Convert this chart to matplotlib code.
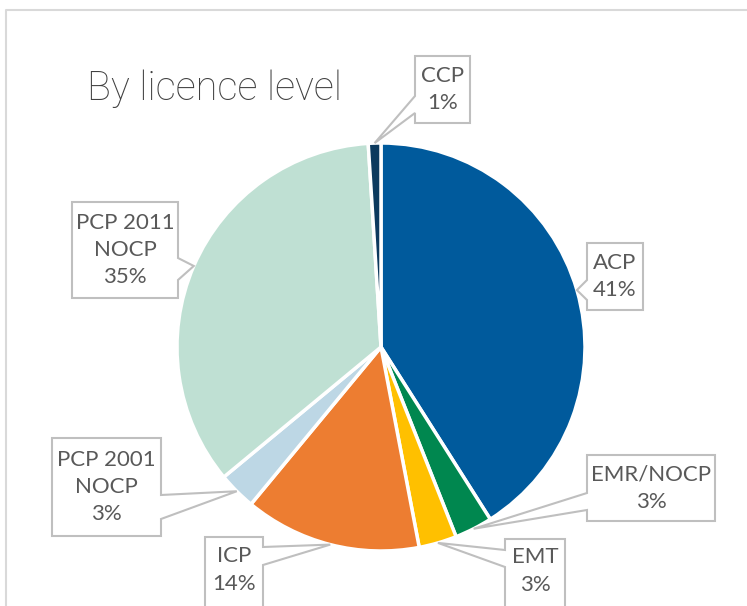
import numpy as np
import matplotlib
matplotlib.use("Agg")
import matplotlib.pyplot as plt
from matplotlib.patches import Polygon

W, H = 747, 606

# data
labels = ["ACP", "EMR/NOCP", "EMT", "ICP", "PCP 2001\nNOCP", "PCP 2011\nNOCP", "CCP"]
shares = [41, 3, 3, 14, 3, 35, 1]
colors = ["#005A9C", "#00874F", "#FFC000", "#ED7D31", "#BDD7E5", "#BFE0D3", "#0C3A5E"]

# callout boxes in pixel coords (x0, y0, x1, y1), side of pointer, pointer base on that side
boxes = [
    ((587, 243, 643, 310), "left", (280, 300)),
    ((587, 455, 715, 521), "left", (493, 510)),
    ((505, 539, 565, 608), "left", (550, 567)),
    ((205, 537, 263, 608), "right", (547, 565)),
    ((52, 438, 161, 536), "right", (495, 519)),
    ((72, 202, 178, 298), "right", (258, 280)),
    ((415, 56, 470, 123), "left", (96, 113)),
]

cx, cy, R = 381, 347, 204
text_col = "#595959"
line_col = "#BFBFBF"

plt.rcParams['font.family'] = ['Lato', 'DejaVu Sans']

fig = plt.figure(figsize=(W / 100, H / 100), dpi=100)
ax = fig.add_axes([0, 0, 1, 1])


def Y(y):
    return H - y


wedges, _ = ax.pie(shares, colors=colors, startangle=90, counterclock=False,
                   center=(cx, Y(cy)), radius=R,
                   wedgeprops=dict(edgecolor="white", linewidth=2.5))

for w, lab, pct, (box, side, base) in zip(wedges, labels, shares, boxes):
    ang = np.radians((w.theta1 + w.theta2) / 2)
    tip = (cx + R * np.cos(ang), Y(cy) + R * np.sin(ang))
    x0, y0, x1, y1 = box
    if side == "left":
        pts = [(x0, Y(y0)), (x1, Y(y0)), (x1, Y(y1)), (x0, Y(y1)),
               (x0, Y(base[1])), tip, (x0, Y(base[0]))]
    else:
        pts = [(x0, Y(y0)), (x1, Y(y0)), (x1, Y(base[0])), tip,
               (x1, Y(base[1])), (x1, Y(y1)), (x0, Y(y1))]
    ax.add_patch(Polygon(pts, closed=True, facecolor="white", edgecolor=line_col,
                         linewidth=1.5, zorder=3))
    yc = (y0 + min(y1, 603)) / 2
    ax.text((x0 + x1) / 2, Y(yc), f"{lab}\n{pct}%", ha="center", va="center",
            fontsize=16, color=text_col, linespacing=1.45, zorder=4)

# chart frame (partly visible)
ax.plot([6, 6, W], [0, Y(10), Y(10)], color="#D9D9D9", linewidth=1.5)

ax.text(87, Y(100), "By licence level", fontsize=28.5, color="#404040",
        family=["Roboto", "DejaVu Sans"], fontweight="light", va="baseline")

ax.set_xlim(0, W)
ax.set_ylim(0, H)
ax.axis("off")

fig.savefig("out.png", dpi=100)
